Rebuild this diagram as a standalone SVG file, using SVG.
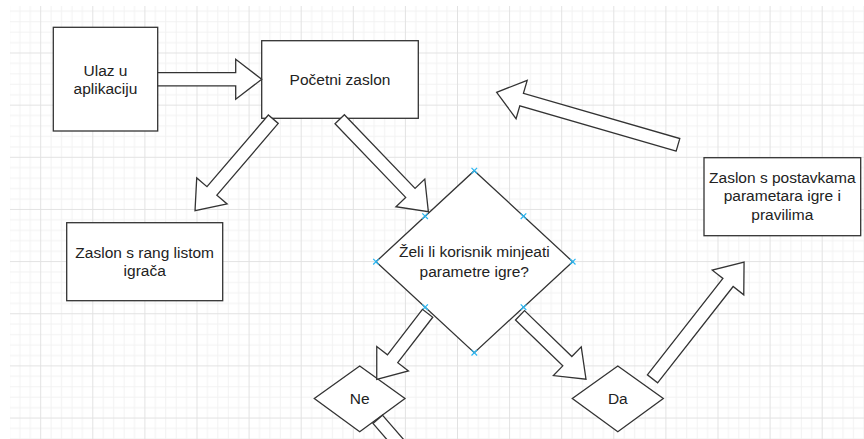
<svg xmlns="http://www.w3.org/2000/svg" width="864" height="439" viewBox="0 0 864 439">
<style>
.box{fill:#fff;stroke:#333;stroke-width:1.3}
.arr{fill:#fff;stroke:#333;stroke-width:1.3;stroke-linejoin:miter}
.t{font-family:"Liberation Sans",Arial,sans-serif;font-size:15.5px;fill:#222;text-anchor:middle}
.pt{stroke:#29b6f2;stroke-width:1.2;fill:none}
</style>
<defs>
<pattern id="grid" patternUnits="userSpaceOnUse" x="40.2" y="52.5" width="52.1" height="52.15">
<path d="M10.92 0V52.15M21.34 0V52.15M31.76 0V52.15M42.18 0V52.15M0 10.93H52.1M0 21.36H52.1M0 31.79H52.1M0 42.22H52.1" stroke="#f2f2f2" stroke-width="1" fill="none"/>
<path d="M0.5 0V52.15M0 0.5H52.1" stroke="#e2e2e2" stroke-width="1" fill="none"/>
</pattern>
<g id="xm"><path d="M-2.8,-2.8L2.8,2.8M-2.8,2.8L2.8,-2.8" class="pt"/></g>
</defs>
<rect x="0" y="0" width="864" height="439" fill="#fff"/>
<rect x="10" y="6" width="854" height="433" fill="url(#grid)"/>

<g id="n-ulaz">
<rect class="box" x="53.3" y="27.3" width="104.4" height="103.7"/>
<text class="t" x="105.5" y="75.5">Ulaz u</text>
<text class="t" x="105.5" y="94.1">aplikaciju</text>
</g>
<g id="n-pocetni">
<rect class="box" x="261.7" y="40.7" width="156.6" height="77.6"/>
<text class="t" x="340" y="84.6">Početni zaslon</text>
</g>
<g id="n-rang">
<rect class="box" x="66.7" y="222.7" width="156" height="78"/>
<text class="t" x="144.7" y="257.6">Zaslon s rang listom</text>
<text class="t" x="144.7" y="276.2">igrača</text>
</g>
<g id="n-postavke">
<rect class="box" x="704" y="157.7" width="156.7" height="78"/>
<text class="t" x="782.3" y="182.9">Zaslon s postavkama</text>
<text class="t" x="782.3" y="201.3">parametara igre i</text>
<text class="t" x="782.3" y="219.7">pravilima</text>
</g>
<g id="n-odluka">
<polygon class="box" points="474.3,170.7 572.7,261.7 474.3,352.7 376,261.7"/>
<text class="t" x="474.3" y="257.4">Želi li korisnik minjeati</text>
<text class="t" x="474.3" y="276.8">parametre igre?</text>
<use href="#xm" x="474.3" y="170.7"/>
<use href="#xm" x="572.7" y="261.7"/>
<use href="#xm" x="474.3" y="352.7"/>
<use href="#xm" x="376" y="261.7"/>
<use href="#xm" x="425.1" y="216.2"/>
<use href="#xm" x="523.5" y="216.2"/>
<use href="#xm" x="425.1" y="307.2"/>
<use href="#xm" x="523.5" y="307.2"/>
</g>
<g id="n-ne">
<polygon class="box" points="359.7,366 405,398.4 359.7,431.7 314.3,398.4"/>
<text class="t" x="359.7" y="404">Ne</text>
</g>
<g id="n-da">
<polygon class="box" points="617.8,366 663.3,398.4 617.8,431.7 572.3,398.4"/>
<text class="t" x="617.8" y="404">Da</text>
</g>

<g id="connectors">
<polygon class="arr" transform="translate(157.7,79.3)" points="0,-6.6 78,-6.6 78,-20 104,0 78,20 78,6.6 0,6.6"/>
<polygon class="arr" transform="translate(273.3,119.2) rotate(130.55)" points="0,-6.5 94.4,-6.5 94.4,-20 120.4,0 94.4,20 94.4,6.5 0,6.5"/>
<polygon class="arr" transform="translate(339.7,119.2) rotate(46.2)" points="0,-6.5 102.1,-6.5 102.1,-20 128.1,0 102.1,20 102.1,6.5 0,6.5"/>
<polygon class="arr" transform="translate(678,144.8) rotate(196.15)" points="0,-6.5 162.8,-6.5 162.8,-20 188.8,0 162.8,20 162.8,6.5 0,6.5"/>
<polygon class="arr" transform="translate(427.6,313.3) rotate(127.6)" points="0,-6.5 57.35,-6.5 57.35,-20 83.35,0 57.35,20 57.35,6.5 0,6.5"/>
<polygon class="arr" transform="translate(520,315.3) rotate(44.1)" points="0,-6.5 65.9,-6.5 65.9,-20 91.9,0 65.9,20 65.9,6.5 0,6.5"/>
<polygon class="arr" transform="translate(652.5,378.8) rotate(-51.9)" points="0,-6.5 122.4,-6.5 122.4,-20 148.4,0 122.4,20 122.4,6.5 0,6.5"/>
<polygon class="arr" transform="translate(377.7,419.3) rotate(49)" points="0,-6.3 54,-6.3 54,-20 80,0 54,20 54,6.3 0,6.3"/>
</g>
</svg>
